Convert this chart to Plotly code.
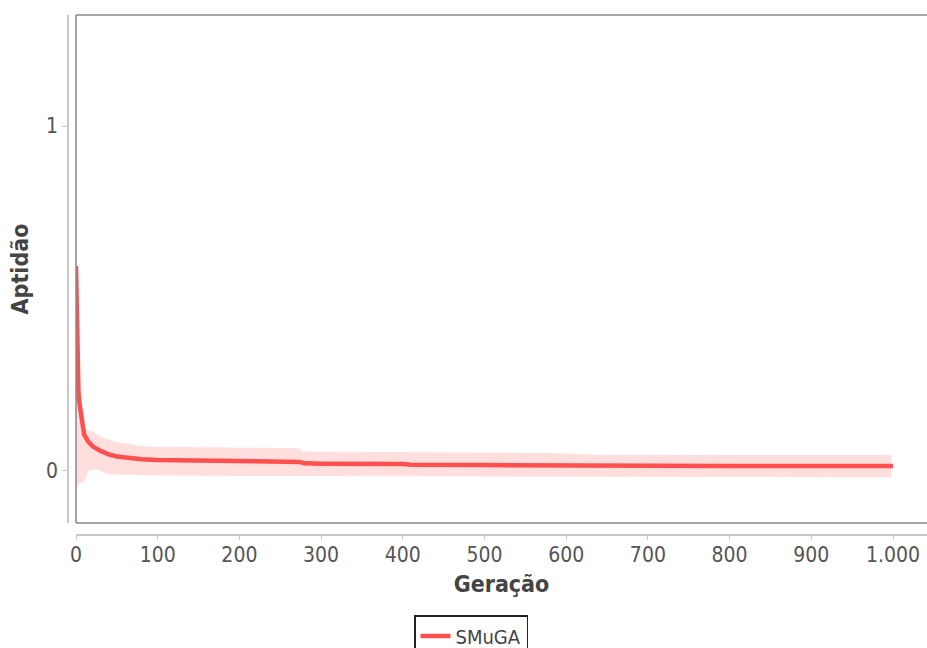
import plotly.graph_objects as go

gen_mean = [0, 1, 2, 3, 4, 6, 8, 10, 15, 20, 30, 40, 50, 60, 80, 100, 150, 200, 250, 274, 280, 300, 400, 410, 500, 580, 600, 700, 800, 900, 1000]
mean = [0.594, 0.40, 0.28, 0.23, 0.20, 0.16, 0.13, 0.105, 0.085, 0.072, 0.058, 0.048, 0.042, 0.039, 0.034, 0.032, 0.031, 0.030, 0.027, 0.026, 0.022, 0.021, 0.020, 0.018, 0.017, 0.016, 0.014, 0.0145, 0.014, 0.014, 0.014]

gen_upper = [0, 2, 4, 8, 12, 20, 30, 40, 45, 60, 80, 100, 200, 274, 276, 580, 650, 998]
upper = [0.70, 0.35, 0.20, 0.14, 0.12, 0.115, 0.10, 0.09, 0.085, 0.08, 0.072, 0.07, 0.068, 0.066, 0.056, 0.052, 0.046, 0.046]

gen_lower = [0, 5, 10, 15, 25, 40, 50, 100, 274, 600, 998]
lower = [-0.05, -0.035, -0.03, 0.0, 0.005, -0.01, -0.012, -0.013, -0.015, -0.017, -0.018]

x_ticks = [0, 100, 200, 300, 400, 500, 600, 700, 800, 900, 1000]
x_tick_labels = ["0", "100", "200", "300", "400", "500", "600", "700", "800", "900", "1.000"]
y_ticks = [0, 1]
y_tick_labels = ["0", "1"]

FONT = "DejaVu Sans Condensed, DejaVu Sans, sans-serif"

fig = go.Figure()
fig.add_trace(go.Scatter(
    x=gen_upper + gen_lower[::-1], y=upper + lower[::-1],
    fill="toself", fillcolor="rgba(255,200,200,0.6)", line=dict(width=0),
    mode="lines", showlegend=False, hoverinfo="skip"))
fig.add_trace(go.Scatter(
    x=gen_mean, y=mean, mode="lines", name="SMuGA",
    line=dict(color="rgb(255,80,80)", width=4.5)))

W, H = 927, 648
ml, mr, mt = 68, 0, 15
axis_y = 535                  # x-axis line (px)
mb = H - axis_y
pw = W - ml - mr
ph = H - mt - mb
x0_px = 76                    # pixel of x = 0
px_per_unit = (893 - 76) / 1000.0
x_max = (W - mr - x0_px) / px_per_unit

box_line = dict(color="#888888", width=1.5)

fig.update_layout(
    width=W, height=H, autosize=False,
    margin=dict(l=ml, r=mr, t=mt, b=mb, autoexpand=False),
    plot_bgcolor="white", paper_bgcolor="white",
    font=dict(family=FONT, color="#555555", size=20),
    showlegend=True,
    legend=dict(orientation="h", x=(471 - ml) / pw, xanchor="center",
                y=(axis_y - 615) / ph, yanchor="top",
                bordercolor="#222222", borderwidth=1.5,
                itemwidth=30, tracegroupgap=0,
                font=dict(family=FONT, size=20, color="#444444")),
    xaxis=dict(domain=[(x0_px - ml) / pw, 1], range=[0, x_max], anchor="free", position=0,
               automargin=False,
               tickvals=x_ticks, ticktext=x_tick_labels,
               showgrid=False, zeroline=False, showline=True, linecolor="#c8c8c8", linewidth=1.5,
               ticks="outside", ticklen=4, tickcolor="#c8c8c8", ticklabelstandoff=-3,
               tickfont=dict(family=FONT, size=21, color="#555555"),
               title=dict(text="<b>Geração</b>", font=dict(family=FONT, size=23, color="#444444"), standoff=9)),
    yaxis=dict(domain=[(axis_y - 523) / ph, 1], range=[-0.151, 1.322], anchor="free", position=0,
               automargin=False,
               tickvals=y_ticks, ticktext=y_tick_labels,
               showgrid=False, zeroline=False, showline=True, linecolor="#c8c8c8", linewidth=1.5,
               ticks="outside", ticklen=5, tickcolor="#c8c8c8",
               tickfont=dict(family=FONT, size=21, color="#555555"),
               title=dict(text="<b>Aptidão</b>", font=dict(family=FONT, size=23, color="#444444"), standoff=10)),
    shapes=[
        dict(type="line", xref="x domain", yref="y domain", x0=0, x1=0, y0=0, y1=1, line=box_line, layer="above"),
        dict(type="line", xref="x domain", yref="y domain", x0=0, x1=1.01, y0=1, y1=1, line=box_line, layer="above"),
        dict(type="line", xref="x domain", yref="y domain", x0=0, x1=1.01, y0=0, y1=0, line=box_line, layer="above"),
    ],
)

fig.write_html(
    "out.html",
    config={"responsive": False, "displayModeBar": False},
    post_script="document.body.style.margin='0';document.body.style.overflow='hidden';",
)
